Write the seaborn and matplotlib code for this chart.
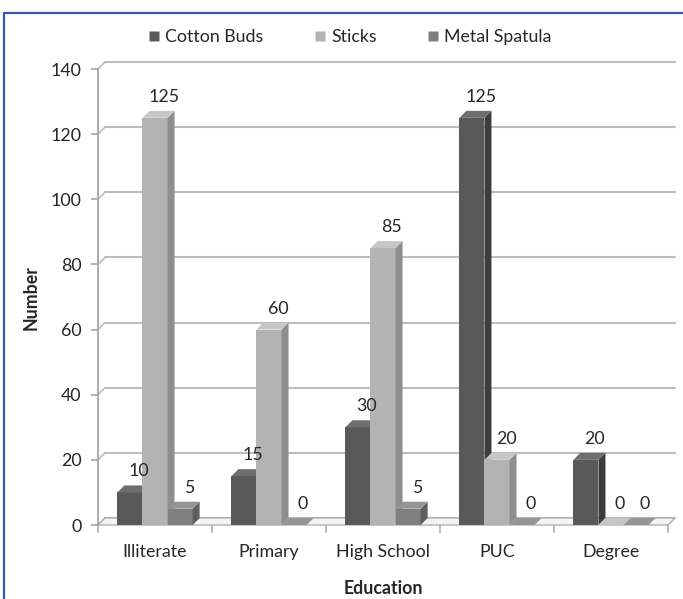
import matplotlib
matplotlib.use("Agg")
import matplotlib.pyplot as plt
from matplotlib.patches import Polygon
from matplotlib.lines import Line2D
import numpy as np
import pandas as pd
import seaborn as sns

# Data
education = ["Illiterate", "Primary", "High School", "PUC", "Degree"]
cotton_buds = [10, 15, 30, 125, 20]
sticks = [125, 60, 85, 20, 0]
metal_spatula = [5, 0, 5, 0, 0]
methods = ["Cotton Buds", "Sticks", "Metal Spatula"]
y_ticks = [0, 20, 40, 60, 80, 100, 120, 140]

# Face colours per series: front, side, top
front = {"Cotton Buds": "#595959", "Sticks": "#b3b3b3", "Metal Spatula": "#7f7f7f"}
side = {"Cotton Buds": "#3c3c3c", "Sticks": "#8e8e8e", "Metal Spatula": "#5e5e5e"}
top = {"Cotton Buds": "#6e6e6e", "Sticks": "#c6c6c6", "Metal Spatula": "#959595"}

df = pd.DataFrame({
    "Education": education * 3,
    "Method": [m for m in methods for _ in education],
    "Number": cotton_buds + sticks + metal_spatula,
})

sns.set_theme(style="white")
plt.rcParams["font.family"] = ["Lato", "DejaVu Sans"]
text_color = "#262626"
fs = 12.8

W, H = 683, 599
fig = plt.figure(figsize=(W / 100, H / 100), dpi=100)
x0_px, x1_px, y0_px, y1_px = 98, 668, 525, 69
ax = fig.add_axes([x0_px / W, 1 - y0_px / H, (x1_px - x0_px) / W, (y0_px - y1_px) / H])

sns.barplot(data=df, x="Education", y="Number", hue="Method", order=education,
            hue_order=methods, palette=front, width=0.66, ax=ax, legend=False,
            saturation=1, linewidth=0)

ax.set_xlim(-0.5, len(education) - 0.5)
ax.set_ylim(0, 140)

# depth of the pseudo-3D extrusion, in pixels converted to data units
depth_px = 7
dx = depth_px * (len(education)) / (x1_px - x0_px)
dy = depth_px * 140 / (y0_px - y1_px)

grid_c = "#bdbdbd"
# back-wall gridlines with connectors to the front axis
for t in y_ticks:
    ax.plot([-0.5 + dx, len(education) - 0.5 + dx], [t + dy, t + dy], color=grid_c,
            lw=1.5, zorder=1, clip_on=False)
    ax.plot([-0.5, -0.5 + dx], [t, t + dy], color=grid_c, lw=1.2, zorder=1, clip_on=False)

# floor
floor = Polygon([(-0.5, 0), (len(education) - 0.5, 0), (len(education) - 0.5 + dx, dy),
                 (-0.5 + dx, dy)], closed=True, facecolor="#f4f4f4", edgecolor="#b0b0b0",
                lw=1.0, zorder=1.5, clip_on=False)
ax.add_patch(floor)

# extrude each bar: side and top faces, drawn left to right
bars = []
for container, m in zip(ax.containers, methods):
    for patch, val in zip(container.patches, container.datavalues):
        bars.append((patch.get_x(), patch, m, val))
bars.sort(key=lambda b: b[0])
for k, (xl, patch, m, val) in enumerate(bars):
    z = 3 + k * 0.1
    patch.set_zorder(z)
    xr = xl + patch.get_width()
    h = patch.get_height()
    ax.add_patch(Polygon([(xr, 0), (xr, h), (xr + dx, h + dy), (xr + dx, dy)], closed=True,
                         facecolor=side[m], edgecolor="none", zorder=z + 0.05, clip_on=False))
    ax.add_patch(Polygon([(xl, h), (xr, h), (xr + dx, h + dy), (xl + dx, h + dy)], closed=True,
                         facecolor=top[m], edgecolor="none", zorder=z + 0.05, clip_on=False))
    ax.annotate(f"{val:g}", (xl + patch.get_width() / 2, h), xytext=(9, 21),
                textcoords="offset pixels", ha="center", va="center", fontsize=fs,
                color=text_color, zorder=10, annotation_clip=False)

# axes styling
for s in ["top", "right", "bottom"]:
    ax.spines[s].set_visible(False)
ax.spines["left"].set_color("#a6a6a6")
ax.spines["left"].set_linewidth(1.3)
ax.set_yticks(y_ticks)
ax.set_xticks(range(len(education)))
ax.set_xticks(np.arange(-0.5, len(education), 1.0), minor=True)
ax.tick_params(axis="y", which="major", length=5, width=1.2, color="#a6a6a6",
               labelsize=fs, labelcolor=text_color, pad=7, left=True)
ax.tick_params(axis="x", which="major", length=0, labelsize=fs, labelcolor=text_color, pad=14)
ax.tick_params(axis="x", which="minor", length=6, width=1.2, color="#b0b0b0", bottom=True)
ax.set_xlabel("Education", fontsize=fs, fontweight="bold", color=text_color, labelpad=14)
ax.set_ylabel("Number", fontsize=fs, fontweight="bold", color=text_color, labelpad=8)
ax.grid(False)

# legend across the top
handles = [Line2D([], [], marker="s", linestyle="none", markersize=7.5,
                  markerfacecolor=front[m], markeredgecolor="none") for m in methods]
fig.legend(handles, methods, loc="center", bbox_to_anchor=(347 / W, 1 - 37 / H), ncol=3,
           frameon=False, fontsize=fs, handletextpad=0.0, columnspacing=2.5,
           handlelength=1.3, labelcolor=text_color)

# blue frame lines along top and left edges
fig.add_artist(Line2D([4 / W, 1], [1 - 13 / H, 1 - 13 / H], color="#3a5bab", lw=1.6,
                      transform=fig.transFigure))
fig.add_artist(Line2D([4 / W, 4 / W], [0, 1 - 13 / H], color="#3a5bab", lw=1.6,
                      transform=fig.transFigure))

fig.savefig("out.png", dpi=100, facecolor="white")
